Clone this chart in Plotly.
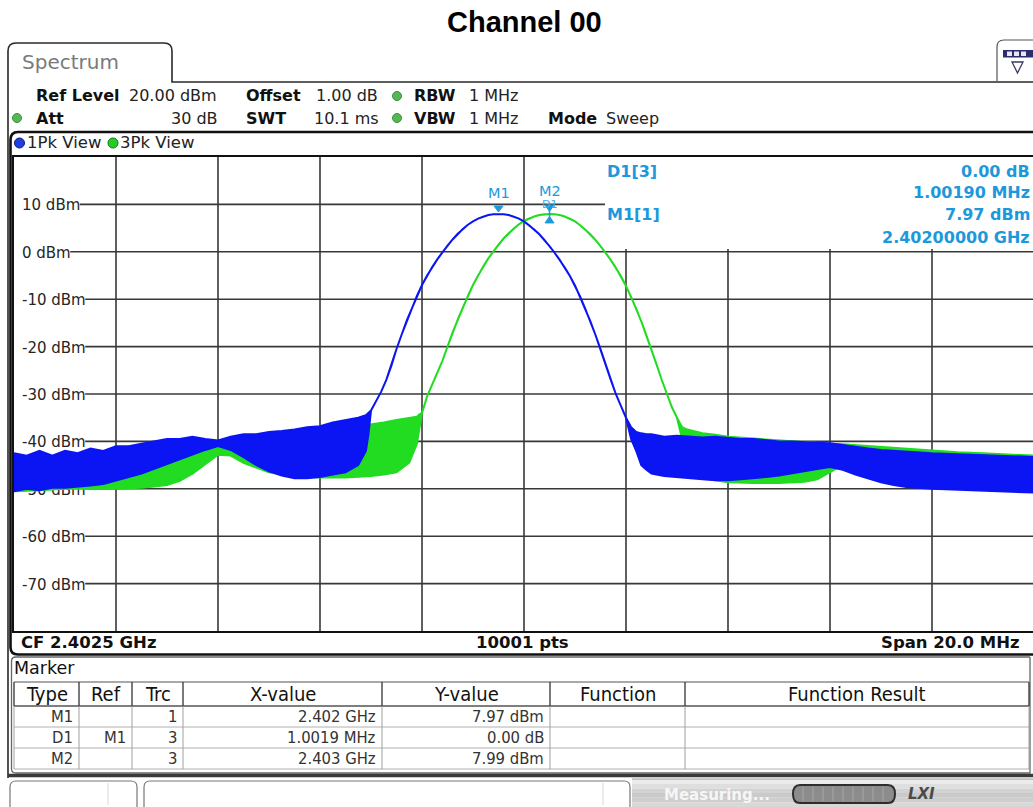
import plotly.graph_objects as go

# ---------------- values ----------------
CF_GHZ = 2.4025
SPAN_MHZ = 20.0
START_MHZ = 2392.5
REF_LEVEL = 20.0
BOTTOM_LEVEL = -80.0

grid_levels = [10, 0, -10, -20, -30, -40, -50, -60, -70]
grid_labels = ["10 dBm", "0 dBm", "-10 dBm", "-20 dBm", "-30 dBm",
               "-40 dBm", "-50 dBm", "-60 dBm", "-70 dBm"]
grid_freqs_mhz = [2394.5, 2396.5, 2398.5, 2400.5, 2402.5, 2404.5, 2406.5, 2408.5, 2410.5]

# Trace 1 (1Pk View, blue) : noise band left of the channel (MHz, max dBm, min dBm)
t1_left_f = [2392.5, 2392.75, 2393.0, 2393.25, 2393.5, 2393.75, 2394.0, 2394.25, 2394.5, 2394.75,
             2395.0, 2395.25, 2395.5, 2395.75, 2396.0, 2396.25, 2396.5, 2396.75, 2397.0, 2397.25,
             2397.5, 2397.75, 2398.0, 2398.25, 2398.5, 2398.75, 2399.0, 2399.25, 2399.4, 2399.45]
t1_left_max = [-42.5, -43.0, -42.0, -43.0, -42.0, -42.5, -41.5, -42.0, -41.0, -41.0,
               -40.5, -40.0, -39.5, -39.5, -39.0, -39.5, -39.8, -39.0, -38.5, -38.5,
               -38.0, -37.8, -37.5, -37.0, -36.8, -36.0, -35.5, -35.0, -34.5, -34.0]
t1_left_min = [-50.5, -50.0, -50.3, -49.8, -49.8, -49.5, -49.3, -49.0, -48.2, -47.5,
               -46.8, -45.8, -44.8, -43.8, -42.8, -41.8, -41.0, -41.8, -43.3, -45.0,
               -46.3, -47.2, -47.8, -47.8, -47.5, -47.0, -46.5, -45.0, -42.0, -38.5]
# main lobe (MHz, dBm)
t1_lobe_f = [2399.5, 2399.6, 2399.7, 2399.8, 2399.9, 2400.0, 2400.1, 2400.2, 2400.3, 2400.4,
             2400.5, 2400.6, 2400.7, 2400.8, 2400.9, 2401.0, 2401.1, 2401.2, 2401.3, 2401.4,
             2401.5, 2401.6, 2401.7, 2401.8, 2401.9, 2402.0, 2402.1, 2402.2, 2402.3, 2402.4,
             2402.5, 2402.6, 2402.7, 2402.8, 2402.9, 2403.0, 2403.1, 2403.2, 2403.3, 2403.4,
             2403.5, 2403.6, 2403.7, 2403.8, 2403.9, 2404.0, 2404.1, 2404.2, 2404.3, 2404.4,
             2404.5]
t1_lobe_v = [-33.5, -31.5, -29.5, -27.0, -24.0, -20.5, -17.5, -14.5, -12.0, -9.3,
             -7.0, -5.0, -3.2, -1.6, -0.1, 1.3, 2.6, 3.8, 4.8, 5.7,
             6.4, 7.0, 7.4, 7.75, 7.92, 7.97, 7.92, 7.75, 7.4, 7.0,
             6.4, 5.6, 4.7, 3.7, 2.5, 1.2, -0.2, -1.7, -3.3, -5.1,
             -7.1, -9.4, -12.0, -14.6, -17.5, -20.5, -23.8, -27.0, -30.0, -32.5,
             -35.0]
t1_right_f = [2404.6, 2404.7, 2404.8, 2404.9, 2405.0, 2405.25, 2405.5, 2405.75, 2406.0, 2406.25,
              2406.5, 2406.75, 2407.0, 2407.25, 2407.5, 2407.75, 2408.0, 2408.25, 2408.5, 2408.75,
              2409.0, 2409.25, 2409.5, 2409.75, 2410.0, 2410.5, 2411.0, 2411.5, 2412.0, 2412.5]
t1_right_max = [-37.0, -38.0, -38.3, -38.5, -38.5, -39.0, -38.8, -39.0, -39.2, -39.0,
                -39.3, -39.5, -39.5, -39.8, -40.0, -40.0, -40.2, -40.3, -40.4, -40.8,
                -41.2, -41.5, -41.8, -42.0, -42.2, -42.5, -42.7, -42.9, -43.1, -43.3]
t1_right_min = [-39.5, -42.0, -45.0, -46.0, -46.8, -47.3, -47.6, -47.8, -48.0, -48.2,
                -48.2, -48.0, -47.8, -47.5, -47.2, -46.8, -46.3, -45.8, -45.4, -46.0,
                -47.0, -47.8, -48.6, -49.2, -49.6, -50.0, -50.2, -50.4, -50.6, -50.8]

# Trace 3 (3Pk View, green)
t3_left_f = [2392.5, 2393.0, 2393.5, 2394.0, 2394.5, 2394.75, 2395.0, 2395.25, 2395.5, 2395.75,
             2396.0, 2396.25, 2396.5, 2396.75, 2397.0, 2397.25, 2397.5, 2398.0, 2398.5, 2399.0,
             2399.5, 2399.75, 2400.0, 2400.25, 2400.4, 2400.45]
t3_left_max = [-44.5, -45.0, -45.5, -46.0, -45.5, -45.0, -44.3, -43.5, -42.8, -42.0,
               -41.2, -40.7, -40.5, -40.2, -40.0, -39.7, -39.5, -38.8, -38.0, -37.3,
               -36.5, -36.0, -35.5, -35.0, -34.8, -34.3]
t3_left_min = [-50.5, -50.3, -50.0, -50.0, -50.0, -49.9, -49.8, -49.5, -49.2, -48.3,
               -46.8, -44.8, -42.8, -43.0, -44.5, -45.5, -46.5, -47.3, -47.6, -47.6,
               -47.3, -47.0, -46.5, -44.5, -40.5, -37.0]
t3_lobe_f = [2400.5, 2400.6, 2400.7, 2400.8, 2400.9, 2401.0, 2401.1, 2401.2, 2401.3, 2401.4,
             2401.5, 2401.6, 2401.7, 2401.8, 2401.9, 2402.0, 2402.1, 2402.2, 2402.3, 2402.4,
             2402.5, 2402.6, 2402.7, 2402.8, 2402.9, 2403.0, 2403.1, 2403.2, 2403.3, 2403.4,
             2403.5, 2403.6, 2403.7, 2403.8, 2403.9, 2404.0, 2404.1, 2404.2, 2404.3, 2404.4,
             2404.5, 2404.6, 2404.7, 2404.8, 2404.9, 2405.0, 2405.1, 2405.2, 2405.3, 2405.4,
             2405.5]
t3_lobe_v = [-34.0, -30.5, -28.0, -25.5, -23.0, -20.0, -17.0, -14.3, -11.8, -9.3,
             -7.0, -5.0, -3.1, -1.4, 0.1, 1.5, 2.8, 3.9, 4.9, 5.8,
             6.5, 7.05, 7.45, 7.78, 7.94, 7.99, 7.94, 7.78, 7.45, 7.0,
             6.4, 5.6, 4.7, 3.7, 2.5, 1.2, -0.2, -1.7, -3.3, -5.1,
             -7.2, -9.5, -12.0, -14.7, -17.6, -20.6, -23.8, -27.0, -30.0, -32.8,
             -35.0]
t3_right_f = [2405.6, 2405.7, 2405.8, 2406.0, 2406.25, 2406.5, 2407.0, 2407.5, 2408.0, 2408.25,
              2408.5, 2408.75, 2409.0, 2409.25, 2409.5, 2409.75, 2410.0, 2410.5, 2411.0, 2411.5,
              2412.0, 2412.5]
t3_right_max = [-37.0, -37.5, -37.8, -38.3, -38.6, -39.0, -39.4, -39.8, -40.2, -40.3,
                -40.5, -40.6, -40.8, -41.0, -41.2, -41.4, -41.6, -42.0, -42.3, -42.5,
                -42.8, -43.0]
t3_right_min = [-39.5, -43.0, -46.0, -47.5, -48.2, -48.6, -48.8, -48.8, -48.5, -48.0,
                -46.5, -45.0, -44.3, -44.0, -44.2, -45.0, -46.5, -48.5, -49.5, -50.0,
                -50.3, -50.5]

# markers
m1_freq_ghz, m1_level = 2.402, 7.97
m2_freq_ghz, m2_level = 2.403, 7.99
marker_info_left = ["D1[3]", "", "M1[1]", ""]
marker_info_right = ["0.00 dB", "1.00190 MHz", "7.97 dBm", "2.40200000 GHz"]

table_header = ["Type", "Ref", "Trc", "X-value", "Y-value", "Function", "Function Result"]
table_rows = [["M1", "", "1", "2.402 GHz", "7.97 dBm", "", ""],
              ["D1", "M1", "3", "1.0019 MHz", "0.00 dB", "", ""],
              ["M2", "", "3", "2.403 GHz", "7.99 dBm", "", ""]]

# ---------------- geometry / style ----------------
W, H = 1033, 807
PL, PR, PT, PB = 14, 1033, 157, 631
GRID_RIGHT = 1034
INFO_LEFT, INFO_BOTTOM = 605, 249
FONT = "DejaVu Sans"
FONT_C = "DejaVu Sans Condensed, DejaVu Sans"
BLUE = "#0b14f2"
GREEN = "#22dc22"
MCOL = "#1e98dc"
GRIDC = "#383838"


def X(px):
    return (px - PL) / (PR - PL)


def Y(py):
    return (PB - py) / (PB - PT)


def P(px, py):
    return f"{X(px):.5f},{Y(py):.5f}"


X_MIN = START_MHZ / 1000.0
X_MAX = (START_MHZ + SPAN_MHZ * (PR - PL) / (GRID_RIGHT - PL)) / 1000.0


def px_of_freq(ghz):
    return PL + (ghz - X_MIN) / (X_MAX - X_MIN) * (PR - PL)


shapes = []
annotations = []


def line(x0, y0, x1, y1, color="#333", width=1.0, layer="above"):
    shapes.append(dict(type="line", xref="paper", yref="paper", x0=X(x0), y0=Y(y0),
                       x1=X(x1), y1=Y(y1), line=dict(color=color, width=width), layer=layer))


def rect(x0, y0, x1, y1, fill="white", color=None, width=0, layer="above"):
    shapes.append(dict(type="rect", xref="paper", yref="paper", x0=X(x0), y0=Y(y1),
                       x1=X(x1), y1=Y(y0), fillcolor=fill,
                       line=dict(color=color or fill, width=width), layer=layer))


def path(d, color="#333", width=1.0, fill=None):
    s = dict(type="path", xref="paper", yref="paper", path=d,
             line=dict(color=color, width=width), layer="above")
    if fill:
        s["fillcolor"] = fill
    shapes.append(s)


def circle(cx, cy, r, fill, color):
    shapes.append(dict(type="circle", xref="paper", yref="paper", x0=X(cx - r), x1=X(cx + r),
                       y0=Y(cy + r), y1=Y(cy - r), fillcolor=fill,
                       line=dict(color=color, width=1), layer="above"))


def text(px, py, s, size=16, color="#222", anchor="left", bold=False, family=FONT):
    annotations.append(dict(x=X(px), y=Y(py), xref="paper", yref="paper",
                            text=(f"<b>{s}</b>" if bold else s), showarrow=False,
                            xanchor=anchor, yanchor="middle", borderpad=0,
                            font=dict(family=family, size=size, color=color)))


def band(lf, lmax, lmin, cf, cv, rf, rmax, rmin):
    xs = lf + cf + rf + rf[::-1] + cf[::-1] + lf[::-1]
    ys = lmax + cv + rmax + rmin[::-1] + cv[::-1] + lmin[::-1]
    return [v / 1000.0 for v in xs], ys


fig = go.Figure()
x3, y3 = band(t3_left_f, t3_left_max, t3_left_min, t3_lobe_f, t3_lobe_v,
              t3_right_f, t3_right_max, t3_right_min)
fig.add_trace(go.Scatter(x=x3, y=y3, mode="lines", fill="toself", fillcolor=GREEN,
                         line=dict(color=GREEN, width=2), hoverinfo="skip"))
x1, y1 = band(t1_left_f, t1_left_max, t1_left_min, t1_lobe_f, t1_lobe_v,
              t1_right_f, t1_right_max, t1_right_min)
fig.add_trace(go.Scatter(x=x1, y=y1, mode="lines", fill="toself", fillcolor=BLUE,
                         line=dict(color=BLUE, width=2), hoverinfo="skip"))

# ---- grid (drawn below the traces, interrupted by labels and marker info) ----
adv = {"0": .636, "1": .636, "2": .636, "3": .636, "4": .636, "5": .636, "6": .636, "7": .636,
       "8": .636, "9": .636, "-": .361, " ": .318, "d": .635, "B": .686, "m": .974}
LABEL_X = 20
for lv, lb in zip(grid_levels, grid_labels):
    wpx = sum(adv[c] for c in lb) * 15
    x_end = GRID_RIGHT if lv < 10 else INFO_LEFT
    shapes.append(dict(type="line", xref="paper", yref="y", x0=X(LABEL_X + wpx + 1.5), x1=X(x_end),
                       y0=lv, y1=lv, line=dict(color=GRIDC, width=1.6), layer="below"))
    shapes.append(dict(type="rect", xref="paper", yref="y", x0=X(LABEL_X - 1), x1=X(LABEL_X + wpx),
                       y0=lv - 1.6, y1=lv + 1.6, line=dict(width=0), fillcolor="rgba(0,0,0,0)",
                       layer="below",
                       label=dict(text=lb, textposition="middle left", padding=0,
                                  font=dict(family=FONT, size=15, color="#262626"))))
for fm in grid_freqs_mhz:
    g = fm / 1000.0
    top = INFO_BOTTOM if px_of_freq(g) > INFO_LEFT else PT
    shapes.append(dict(type="line", xref="x", yref="paper", x0=g, x1=g, y0=0, y1=Y(top),
                       line=dict(color=GRIDC, width=1.6), layer="below"))

# ---- title ----
annotations.append(dict(x=X(524), y=Y(22), xref="paper", yref="paper", text="<b>Channel 00</b>",
                        showarrow=False, xanchor="center", yanchor="middle",
                        font=dict(family="Liberation Sans, Arial", size=29, color="#000")))

# ---- tab and outer frame ----
path(f"M {P(8,778)} L {P(8,51)} Q {P(8,43)} {P(16,43)} L {P(164,43)} Q {P(172,43)} {P(172,51)} "
     f"L {P(172,82)} L {P(1040,82)}", color="#2a2a2a", width=1.6)
text(21, 62, "Spectrum", size=20, color="#7a7a7a")
path(f"M {P(997,81)} L {P(997,47)} Q {P(997,40)} {P(1004,40)} L {P(1040,40)}", color="#555", width=1.2)
rect(1003, 50, 1033, 57.5, fill="#2c2c6e")
for sx in (1007, 1014, 1021):
    rect(sx, 51.5, sx + 5, 56, fill="#e8e8f4")
path(f"M {P(1012,62)} L {P(1023,62)} L {P(1017.5,73)} Z", color="#3a3a6a", width=1.3)

# ---- header ----
hdr = 16
text(35, 95, "Ref Level", hdr, "#111", bold=True)
text(128, 95, "20.00 dBm", hdr, "#222")
text(245, 95, "Offset", hdr, "#111", bold=True)
text(315, 95, "1.00 dB", hdr, "#222")
circle(397, 96, 4.5, "#55b855", "#3d8f3d")
text(413, 95, "RBW", hdr, "#111", bold=True)
text(468, 95, "1 MHz", hdr, "#222")
circle(17, 118, 4.5, "#55b855", "#3d8f3d")
text(35, 118, "Att", hdr, "#111", bold=True)
text(219, 118, "30 dB", hdr, "#222", anchor="right")
text(245, 118, "SWT", hdr, "#111", bold=True)
text(313, 118, "10.1 ms", hdr, "#222")
circle(397, 118, 4.5, "#55b855", "#3d8f3d")
text(413, 118, "VBW", hdr, "#111", bold=True)
text(468, 118, "1 MHz", hdr, "#222")
text(547, 118, "Mode", hdr, "#111", bold=True)
text(605, 118, "Sweep", hdr, "#222")

# ---- diagram frame ----
path(f"M {P(1040,132)} L {P(18,132)} Q {P(10.5,132)} {P(10.5,140)} L {P(10.5,647)} "
     f"Q {P(10.5,654.5)} {P(18,654.5)} L {P(1040,654.5)}", color="#111", width=2.6)
circle(19.5, 143, 5, "#1f3fe0", "#0a1a80")
text(26, 143, "1Pk View", 16.5, "#222")
circle(113, 143, 5, "#26cc26", "#0f7a0f")
text(119, 143, "3Pk View", 16.5, "#222")

text(20, 642.5, "CF 2.4025 GHz", 16.5, "#111", bold=True)
text(522, 642.5, "10001 pts", 16.5, "#111", anchor="center", bold=True)
text(1021, 642.5, "Span 20.0 MHz", 16.5, "#111", anchor="right", bold=True)

# ---- marker info ----
info_y = [171, 192, 215, 237]
for yy, l, r in zip(info_y, marker_info_left, marker_info_right):
    if l:
        text(606, yy, l, 16, MCOL, bold=True)
    text(1031, yy, r, 16, MCOL, anchor="right", bold=True)


def mark_text(x, y, s, size, yshift, color=MCOL):
    annotations.append(dict(x=x, y=y, xref="x", yref="y", text=s, showarrow=False,
                            xanchor="center", yanchor="middle", yshift=yshift,
                            font=dict(family=FONT, size=size, color=color)))


def mark_tri(x, y, d):
    shapes.append(dict(type="path", xref="x", yref="y", xsizemode="pixel", ysizemode="pixel",
                       xanchor=x, yanchor=y, path=d, fillcolor=MCOL,
                       line=dict(color=MCOL, width=1), layer="above"))


mark_text(m1_freq_ghz, m1_level, "M1", 14.5, 21)
mark_tri(m1_freq_ghz, m1_level, "M -4.5,8 L 4.5,8 L 0,2 Z")
mark_text(m2_freq_ghz, m2_level, "D1", 11, 9, "#4aa8e2")
mark_text(m2_freq_ghz, m2_level, "M2", 14.5, 23)
mark_tri(m2_freq_ghz, m2_level, "M -4.5,9 L 4.5,9 L 0,2.5 Z")
mark_tri(m2_freq_ghz, m2_level, "M -4.5,-9 L 4.5,-9 L 0,-2.5 Z")
shapes.append(dict(type="line", xref="x", yref="y", xsizemode="pixel", ysizemode="pixel",
                   xanchor=m2_freq_ghz, yanchor=m2_level, x0=0, x1=0, y0=-3, y1=3,
                   line=dict(color=MCOL, width=1.5)))

# ---- marker table ----
path(f"M {P(1030,657)} L {P(16,657)} Q {P(11.5,657)} {P(11.5,661)} L {P(11.5,769)} "
     f"Q {P(11.5,773)} {P(16,773)} L {P(1030,773)} L {P(1030,657)}", color="#666", width=1.3)
text(13, 668, "Marker", 17.5, "#111")
col_x = [14, 79, 132, 183, 382, 550, 685, 1029]
row_y = [682, 706, 727, 748, 769]
line(14, 682, 1029, 682, "#555", 1.2)
line(14, 706, 1029, 706, "#555", 1.6)
for yy in row_y[2:]:
    line(14, yy, 1029, yy, "#b0b0b0", 1)
for cx in col_x:
    line(cx, 682, cx, 706, "#333", 1.3)
    line(cx, 706, cx, 769, "#a0a0a0", 1)
for i, h in enumerate(table_header):
    text((col_x[i] + col_x[i + 1]) / 2, 694, h, 20, "#111", anchor="center", family=FONT_C)
for r, row in enumerate(table_rows):
    yy = (row_y[r + 1] + row_y[r + 2]) / 2
    for i, v in enumerate(row):
        if v:
            text(col_x[i + 1] - 5, yy, v, 16.5, "#333", anchor="right", family=FONT_C)

# ---- status bar ----
line(8, 775.5, 1033, 775.5, "#3a3a3a", 3.5)
for i, g in enumerate(["#ececec", "#dedede", "#d2d2d2", "#cacaca", "#cecece", "#d8d8d8"]):
    rect(632, 779 + i * 4.7, 1033, 779 + (i + 1) * 4.7, fill=g)
line(632, 779, 1033, 779, "#9a9a9a", 1)
path(f"M {P(10,808)} L {P(10,787)} Q {P(10,781)} {P(16,781)} L {P(131,781)} Q {P(137,781)} {P(137,787)} "
     f"L {P(137,808)}", color="#777", width=1.2, fill="white")
line(108, 783, 108, 805, "#d8d8d8", 1)
path(f"M {P(144,808)} L {P(144,787)} Q {P(144,781)} {P(150,781)} L {P(624,781)} Q {P(630,781)} {P(630,787)} "
     f"L {P(630,808)}", color="#777", width=1.2, fill="white")
line(603, 783, 603, 805, "#d8d8d8", 1)
text(663, 795, "Measuring...", 15, "#f6f6f6", bold=True)
path(f"M {P(800,785)} L {P(888,785)} Q {P(895,785)} {P(895,794)} Q {P(895,803)} {P(888,803)} "
     f"L {P(800,803)} Q {P(793,803)} {P(793,794)} Q {P(793,785)} {P(800,785)} Z",
     color="#2e2e2e", width=2, fill="#8c8c8c")
for sx in range(803, 890, 10):
    line(sx, 787, sx, 801, "#a8a8a8", 1)
text(907, 794, "<i><b>LXI</b></i>", 15, "#4a4a4a")

fig.update_layout(
    width=W, height=H, margin=dict(l=PL, r=W - PR, t=PT, b=H - PB),
    paper_bgcolor="white", plot_bgcolor="white", showlegend=False,
    shapes=shapes, annotations=annotations,
    xaxis=dict(range=[X_MIN, X_MAX], showticklabels=False, ticks="", showgrid=False,
               zeroline=False, showline=True, linecolor="#111", linewidth=2, mirror=True,
               fixedrange=True),
    yaxis=dict(range=[BOTTOM_LEVEL, REF_LEVEL], showticklabels=False, ticks="", showgrid=False,
               zeroline=False, showline=True, linecolor="#111", linewidth=2, mirror=False,
               fixedrange=True),
)

fig.write_html("out.html", config={"displayModeBar": False},
               post_script="document.body.style.margin='0';document.body.style.overflow='hidden';")
